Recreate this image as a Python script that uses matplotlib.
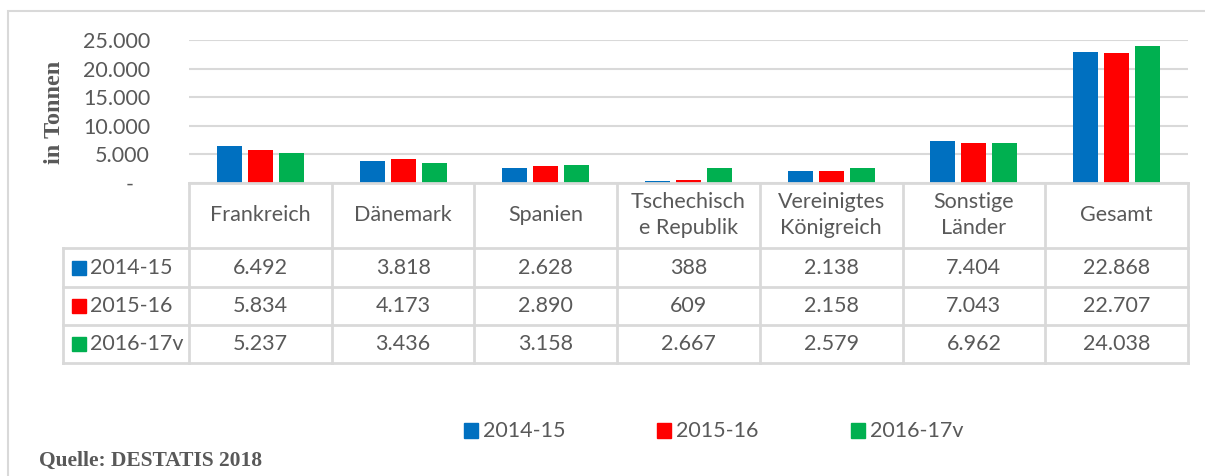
import matplotlib.pyplot as plt
import matplotlib.transforms as mtransforms
from matplotlib.patches import Rectangle
from matplotlib.lines import Line2D

# Exportmengen je Zielland, in Tonnen
laender = ["Frankreich", "Dänemark", "Spanien", "Tschechisch\ne Republik",
           "Vereinigtes\nKönigreich", "Sonstige\nLänder", "Gesamt"]
jahre = ["2014-15", "2015-16", "2016-17v"]
werte_2014_15 = [6492, 3818, 2628, 388, 2138, 7404, 22868]
werte_2015_16 = [5834, 4173, 2890, 609, 2158, 7043, 22707]
werte_2016_17 = [5237, 3436, 3158, 2667, 2579, 6962, 24038]
farben = ["#0070C0", "#FF0000", "#00B050"]

W, H = 1205, 476
GRAU = "#595959"
LINIE = "#D9D9D9"
FS = 15.5
plt.rcParams["font.family"] = ["Lato", "DejaVu Sans"]


def fx(px):
    return px / W


def fy(py):
    return 1 - py / H


def de(v):
    return f"{v:,.0f}".replace(",", ".")


fig = plt.figure(figsize=(W / 100, H / 100), dpi=100)
ax = fig.add_axes([fx(189), fy(183), fx(1188) - fx(189), fy(40) - fy(183)])

serien = [werte_2014_15, werte_2015_16, werte_2016_17]
n = len(laender)
breite = 0.175
schritt = 0.217
for i, (werte, farbe) in enumerate(zip(serien, farben)):
    xs = [k + (i - 1) * schritt for k in range(n)]
    ax.bar(xs, werte, width=breite, color=farbe, zorder=3)

ax.set_xlim(-0.5, n - 0.5)
ax.set_ylim(0, 25000)
ax.set_yticks(range(0, 25001, 5000))
ax.set_yticklabels(["-   "] + [de(v) for v in range(5000, 25001, 5000)],
                   fontsize=FS, color=GRAU)
ax.tick_params(axis="y", length=0, pad=28)
ax.set_xticks([])
ax.yaxis.grid(True, color=LINIE, lw=1.5, zorder=0)
for s in ax.spines.values():
    s.set_visible(False)

# Tabelle unter dem Diagramm
tr = mtransforms.blended_transform_factory(ax.transData, fig.transFigure)
zeilen_y = [248, 287, 325, 363]
for k in range(n + 1):
    fig.add_artist(Line2D([k - 0.5, k - 0.5], [fy(183), fy(363)],
                          transform=tr, color=LINIE, lw=2))
fig.add_artist(Line2D([fx(63), fx(63)], [fy(248), fy(363)],
                      transform=fig.transFigure, color=LINIE, lw=2))
fig.add_artist(Line2D([fx(189), fx(1188)], [fy(183), fy(183)],
                      transform=fig.transFigure, color=LINIE, lw=2))
for y in zeilen_y:
    fig.add_artist(Line2D([fx(63), fx(1188)], [fy(y), fy(y)],
                          transform=fig.transFigure, color=LINIE, lw=2))

for k, land in enumerate(laender):
    fig.text(k, fy(215), land, transform=tr, ha="center", va="center",
             fontsize=FS, color=GRAU, linespacing=1.4)

for r, (jahr, werte, farbe) in enumerate(zip(jahre, serien, farben)):
    yc = (zeilen_y[r] + zeilen_y[r + 1]) / 2
    fig.add_artist(Rectangle((fx(72), fy(yc + 7)), fx(14), fy(yc - 7) - fy(yc + 7),
                             transform=fig.transFigure, color=farbe))
    fig.text(fx(90), fy(yc), jahr, ha="left", va="center", fontsize=FS, color=GRAU)
    for k, v in enumerate(werte):
        fig.text(k, fy(yc), de(v), transform=tr, ha="center", va="center",
                 fontsize=FS, color=GRAU)

# Legende
for x0, jahr, farbe in zip([464, 657, 851], jahre, farben):
    fig.add_artist(Rectangle((fx(x0), fy(438)), fx(14), fy(423) - fy(438),
                             transform=fig.transFigure, color=farbe))
    fig.text(fx(x0 + 19), fy(431), jahr, ha="left", va="center",
             fontsize=FS, color=GRAU)

fig.text(fx(55), fy(112), "in Tonnen", rotation=90, ha="center", va="center",
         fontsize=17.5, fontweight="bold", color=GRAU, family="Liberation Serif")
fig.text(fx(39), fy(461), "Quelle: DESTATIS 2018", ha="left", va="center",
         fontsize=15.5, fontweight="bold", color=GRAU, family="Liberation Serif")

# Rahmen des Diagrammbereichs
fig.add_artist(Rectangle((fx(8), fy(H + 20)), fx(W + 20), fy(11) - fy(H + 20),
                         transform=fig.transFigure, fill=False,
                         edgecolor=LINIE, lw=1.5))

fig.savefig("out.png", dpi=100)
